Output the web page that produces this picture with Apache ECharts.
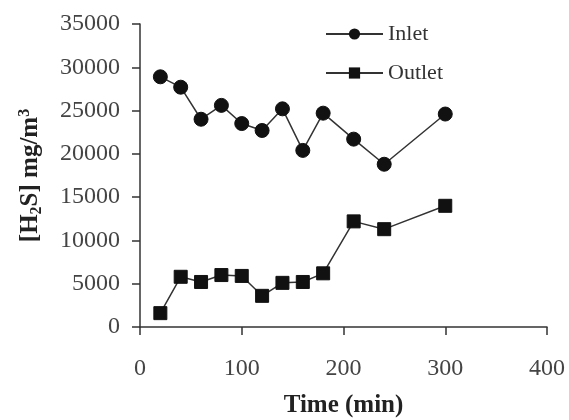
<!DOCTYPE html>
<html>
<head>
<meta charset="utf-8">
<script src="https://cdn.jsdelivr.net/npm/echarts@6/dist/echarts.min.js"></script>
<style>html,body{margin:0;padding:0;background:#fff;}#c{width:569px;height:420px;}</style>
</head>
<body>
<div id="c"></div>
<script>
const timeMin = [20, 40, 60, 80, 100, 120, 140, 160, 180, 210, 240, 300];
const inlet = [28900, 27700, 24000, 25600, 23500, 22700, 25200, 20400, 24700, 21700, 18800, 24600];
const outlet = [1600, 5800, 5200, 6000, 5900, 3600, 5100, 5200, 6200, 12200, 11300, 14000];
const seriesNames = ['Inlet', 'Outlet'];

const FONT = '"Liberation Serif", "Times New Roman", serif';
const chart = echarts.init(document.getElementById('c'), null, {renderer: 'canvas'});
const pair = (xs, ys) => xs.map((x, i) => [x, ys[i]]);
chart.setOption({
  animation: false,
  backgroundColor: '#fff',
  grid: {left: 140, right: 22, top: 24, bottom: 93, containLabel: false, outerBoundsMode: 'none'},
  legend: {
    orient: 'vertical', left: 325, top: 23, padding: 0,
    itemWidth: 57, itemHeight: 14, itemGap: 17,
    textStyle: {fontFamily: FONT, fontSize: 22, color: '#333', lineHeight: 22},
    data: seriesNames
  },
  xAxis: {
    type: 'value', min: 0, max: 400, interval: 100,
    name: 'Time (min)', nameLocation: 'middle', nameGap: 66,
    nameTextStyle: {fontFamily: FONT, fontSize: 25, fontWeight: 'bold', color: '#222'},
    axisLine: {lineStyle: {color: '#333', width: 1.5}},
    axisTick: {show: true, inside: false, length: 8, lineStyle: {color: '#333', width: 1.5}},
    axisLabel: {fontFamily: FONT, fontSize: 24, color: '#444', margin: 30, formatter: v => String(v)},
    splitLine: {show: false}
  },
  yAxis: {
    type: 'value', min: 0, max: 35000, interval: 5000,
    name: '[H{sub|2}S] mg/m{sup|3}', nameLocation: 'middle', nameGap: 95, nameRotate: 90,
    nameTextStyle: {
      fontFamily: FONT, fontSize: 25, fontWeight: 'bold', color: '#222',
      rich: {
        sub: {fontFamily: FONT, fontSize: 16, fontWeight: 'bold', color: '#222', verticalAlign: 'bottom', padding: [12, 0, 0, 0]},
        sup: {fontFamily: FONT, fontSize: 16, fontWeight: 'bold', color: '#222', verticalAlign: 'top', padding: [0, 0, 12, 0]}
      }
    },
    axisLine: {show: true, lineStyle: {color: '#333', width: 1.5}},
    axisTick: {show: true, inside: false, length: 8, lineStyle: {color: '#333', width: 1.5}},
    axisLabel: {fontFamily: FONT, fontSize: 24, color: '#444', margin: 20, formatter: v => String(v)},
    splitLine: {show: false}
  },
  series: [
    {
      name: seriesNames[0], type: 'line', data: pair(timeMin, inlet),
      symbol: 'circle', symbolSize: 14,
      lineStyle: {color: '#333', width: 1.5},
      itemStyle: {color: '#111', borderColor: '#111'}
    },
    {
      name: seriesNames[1], type: 'line', data: pair(timeMin, outlet),
      symbol: 'rect', symbolSize: 13,
      lineStyle: {color: '#333', width: 1.5},
      itemStyle: {color: '#111', borderColor: '#111'}
    }
  ]
});
</script>
</body>
</html>
